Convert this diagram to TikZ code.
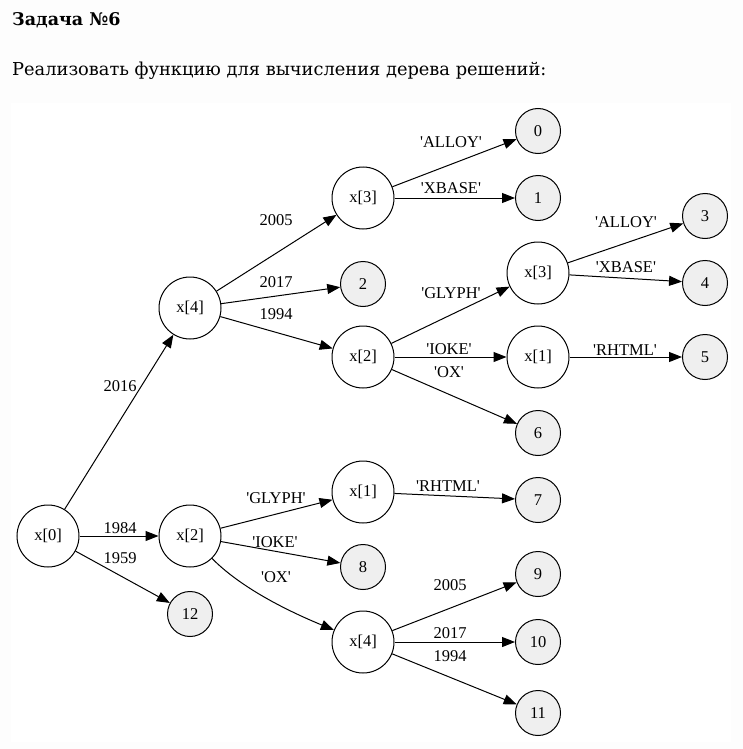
\documentclass[tikz,border=0pt]{standalone}
\usepackage{fontspec}
\setmainfont{Liberation Serif}
\newfontfamily\headfont{DejaVu Serif}
\usetikzlibrary{arrows.meta}
\definecolor{pagebg}{RGB}{253,253,253}
\definecolor{leafgray}{RGB}{239,239,239}
\newcommand\quoted[1]{\textquotesingle#1\textquotesingle}
\begin{document}
\begin{tikzpicture}[x=1pt,y=-1pt,
  inner/.style={circle,draw,line width=1pt,minimum size=62pt,inner sep=0pt,
    font=\fontsize{16.5}{18}\selectfont},
  leaf/.style={inner,fill=leafgray,minimum size=45pt},
  edge/.style={line width=1pt,-{Triangle[length=13pt,width=10pt]}},
  lbl/.style={anchor=base,inner sep=0pt,font=\fontsize{16.5}{18}\selectfont}]
\useasboundingbox (0,0) rectangle (743,749);
\fill[pagebg] (0,0) rectangle (743,749);
\fill[white] (11,103) rectangle (731,742);

% heading
\node[anchor=base west,inner sep=0pt,font=\headfont\bfseries\fontsize{17.5}{20}\selectfont]
  (title) at (12,26) {Задача №6};
\node[anchor=base west,inner sep=0pt,font=\headfont\fontsize{17.8}{21}\selectfont]
  (task) at (12,76) {Реализовать функцию для вычисления дерева решений:};

% decision nodes
\node[inner] (n0) at (48,536) {x[0]};
\node[inner] (a)  at (190,308) {x[4]};
\node[inner] (b)  at (190,536) {x[2]};
\node[inner] (c)  at (363,198) {x[3]};
\node[inner] (d)  at (363,357) {x[2]};
\node[inner] (e)  at (363,492) {x[1]};
\node[inner] (f)  at (363,642) {x[4]};
\node[inner] (g)  at (538,273) {x[3]};
\node[inner] (h)  at (538,357) {x[1]};

% leaves
\node[leaf] (l0)  at (538,131) {0};
\node[leaf] (l1)  at (538,198) {1};
\node[leaf] (l2)  at (363,284) {2};
\node[leaf] (l3)  at (705,216) {3};
\node[leaf] (l4)  at (705,283) {4};
\node[leaf] (l5)  at (705,357) {5};
\node[leaf] (l6)  at (538,433) {6};
\node[leaf] (l7)  at (538,500) {7};
\node[leaf] (l8)  at (363,567) {8};
\node[leaf] (l9)  at (538,574) {9};
\node[leaf] (l10) at (538,642) {10};
\node[leaf] (l11) at (538,713) {11};
\node[leaf] (l12) at (190,614) {12};

% edges
\draw[edge] (n0) -- (a);
\draw[edge] (n0) -- (b);
\draw[edge] (n0) -- (l12);
\draw[edge] (a) -- (c);
\draw[edge] (a) -- (l2);
\draw[edge] (a) -- (d);
\draw[edge] (c) -- (l0);
\draw[edge] (c) -- (l1);
\draw[edge] (d) -- (g);
\draw[edge] (d) -- (h);
\draw[edge] (d) -- (l6);
\draw[edge] (g) -- (l3);
\draw[edge] (g) -- (l4);
\draw[edge] (h) -- (l5);
\draw[edge] (b) -- (e);
\draw[edge] (b) -- (l8);
\draw[edge] (b) .. controls (245,592) and (300,616) .. (f);
\draw[edge] (e) -- (l7);
\draw[edge] (f) -- (l9);
\draw[edge] (f) -- (l10);
\draw[edge] (f) -- (l11);

% edge labels
\node[lbl] (t2016)  at (120,391) {2016};
\node[lbl] (t1984)  at (120,533) {1984};
\node[lbl] (t1959)  at (120,563) {1959};
\node[lbl] (ta2005) at (276,225) {2005};
\node[lbl] (ta2017) at (276,287) {2017};
\node[lbl] (ta1994) at (276,319) {1994};
\node[lbl] (tcA)    at (451,147) {\quoted{ALLOY}};
\node[lbl] (tcX)    at (451,193) {\quoted{XBASE}};
\node[lbl] (tdG)    at (451,298) {\quoted{GLYPH}};
\node[lbl] (tdI)    at (449,354) {\quoted{IOKE}};
\node[lbl] (tdO)    at (449,377) {\quoted{OX}};
\node[lbl] (tgA)    at (626,227) {\quoted{ALLOY}};
\node[lbl] (tgX)    at (626,272) {\quoted{XBASE}};
\node[lbl] (thR)    at (625,355) {\quoted{RHTML}};
\node[lbl] (tbG)    at (276,503) {\quoted{GLYPH}};
\node[lbl] (tbI)    at (275,547) {\quoted{IOKE}};
\node[lbl] (tbO)    at (276,582) {\quoted{OX}};
\node[lbl] (teR)    at (448,491) {\quoted{RHTML}};
\node[lbl] (tf2005) at (450,590) {2005};
\node[lbl] (tf2017) at (450,638) {2017};
\node[lbl] (tf1994) at (450,661) {1994};
\end{tikzpicture}
\end{document}
